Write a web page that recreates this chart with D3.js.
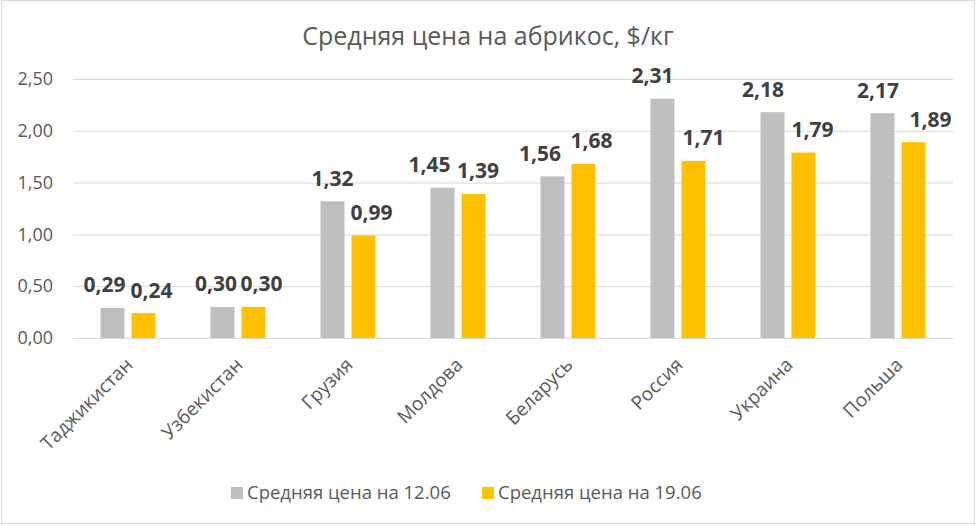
<!DOCTYPE html>
<html><head><meta charset="utf-8">
<script src="https://cdn.jsdelivr.net/npm/d3@7"></script>
<style>html,body{margin:0;padding:0;background:#fff;}svg{display:block;}</style>
</head><body>
<svg id="chart" width="976" height="526"></svg>
<script>
const title = "Средняя цена на абрикос, $/кг";
const categories = ["Таджикистан","Узбекистан","Грузия","Молдова","Беларусь","Россия","Украина","Польша"];
const seriesNames = ["Средняя цена на 12.06","Средняя цена на 19.06"];
const values1206 = [0.29,0.30,1.32,1.45,1.56,2.31,2.18,2.17];
const values1906 = [0.24,0.30,0.99,1.39,1.68,1.71,1.79,1.89];
const yTicks = [0,0.5,1,1.5,2,2.5];
// horizontal nudges of the data labels, as placed in the original chart (layout only)
const labelNudge1206 = [-8,-6.5,0,-13,-12.5,-10,-9.5,-4.5];
const labelNudge1906 = [8,8,8,4.5,8,10,9,17];
const colors = ["#BFBFBF","#FFC000"];

const svg = d3.select("#chart");
const font = "'Open Sans', sans-serif";
const m = {left:73, right:953, top:79, bottom:338};

svg.append("rect").attr("x",1.5).attr("y",0.5).attr("width",973).attr("height",523)
  .attr("fill","#fff").attr("stroke","#D9D9D9").attr("stroke-width",1);

const defs = svg.append("defs");
const pat = defs.append("pattern").attr("id","stip").attr("patternUnits","userSpaceOnUse")
  .attr("width",4).attr("height",4);
pat.append("rect").attr("width",4).attr("height",4).attr("fill","#BDBDBD");
pat.append("rect").attr("x",1).attr("y",1).attr("width",1).attr("height",1).attr("fill","#D0D0D0");
pat.append("rect").attr("x",3).attr("y",3).attr("width",1).attr("height",1).attr("fill","#C8C8C8");

const x0 = d3.scaleBand().domain(categories).range([m.left, m.right]).padding(0);
const x1 = d3.scaleBand().domain(seriesNames).range([27.5, x0.bandwidth()-27.5]).paddingInner(7/31);
const y = d3.scaleLinear().domain([0,2.5]).range([m.bottom, m.top]);

svg.append("text").attr("x", 488).attr("y", 45).attr("text-anchor","middle")
  .attr("font-family",font).attr("font-size",25).attr("fill","#595959").text(title);

const yAxis = d3.axisLeft(y).tickValues(yTicks).tickSize(-(m.right-m.left))
  .tickFormat(d => d3.format(".2f")(d).replace(".",","));
const gy = svg.append("g").attr("transform",`translate(${m.left},0)`).call(yAxis);
gy.select(".domain").remove();
gy.selectAll(".tick line").attr("stroke","#D9D9D9").attr("stroke-width",1);
gy.selectAll(".tick text").attr("x",-20).attr("font-family",font).attr("font-size",18).attr("fill","#595959");

const xAxis = d3.axisBottom(x0).tickSize(0);
const gx = svg.append("g").attr("transform",`translate(0,${m.bottom})`).call(xAxis);
gx.select(".domain").attr("stroke","#D9D9D9");
gx.selectAll(".tick text")
  .attr("font-family",font).attr("font-size",19).attr("fill","#595959")
  .attr("text-anchor","end").attr("dy",0).attr("y",0)
  .attr("transform","translate(6,28) rotate(-45)");

const data = categories.map((c,i)=>({c, vals:[values1206[i], values1906[i]], nudge:[labelNudge1206[i], labelNudge1906[i]]}));
const groups = svg.append("g").selectAll("g").data(data).join("g")
  .attr("transform", d => `translate(${x0(d.c)},0)`);
groups.selectAll("rect").data(d => d.vals.map((v,j)=>({s:seriesNames[j], v, j})))
  .join("rect")
  .attr("x", d => x1(d.s)).attr("width", x1.bandwidth())
  .attr("y", d => y(d.v)).attr("height", d => y(0)-y(d.v))
  .attr("fill", d => d.j===0 ? "url(#stip)" : colors[1]);
groups.selectAll("text.lbl").data(d => d.vals.map((v,j)=>({s:seriesNames[j], v, j, n:d.nudge[j]})))
  .join("text").attr("class","lbl")
  .attr("x", d => x1(d.s)+x1.bandwidth()/2 + d.n).attr("y", d => y(d.v)-15.5)
  .attr("text-anchor","middle").attr("font-family",font).attr("font-size",21).attr("font-weight","bold")
  .attr("fill","#404040").text(d => d3.format(".2f")(d.v).replace(".",","));

const legX = [231, 482];
const lg = svg.append("g").selectAll("g").data(seriesNames).join("g")
  .attr("transform",(d,i)=>`translate(${legX[i]},487)`);
lg.append("rect").attr("width",12).attr("height",12).attr("fill",(d,i)=> i===0 ? "url(#stip)" : colors[1]);
lg.append("text").attr("x",16).attr("y",12).attr("font-family",font).attr("font-size",18.5)
  .attr("fill","#595959").text(d=>d);
</script>
</body></html>
